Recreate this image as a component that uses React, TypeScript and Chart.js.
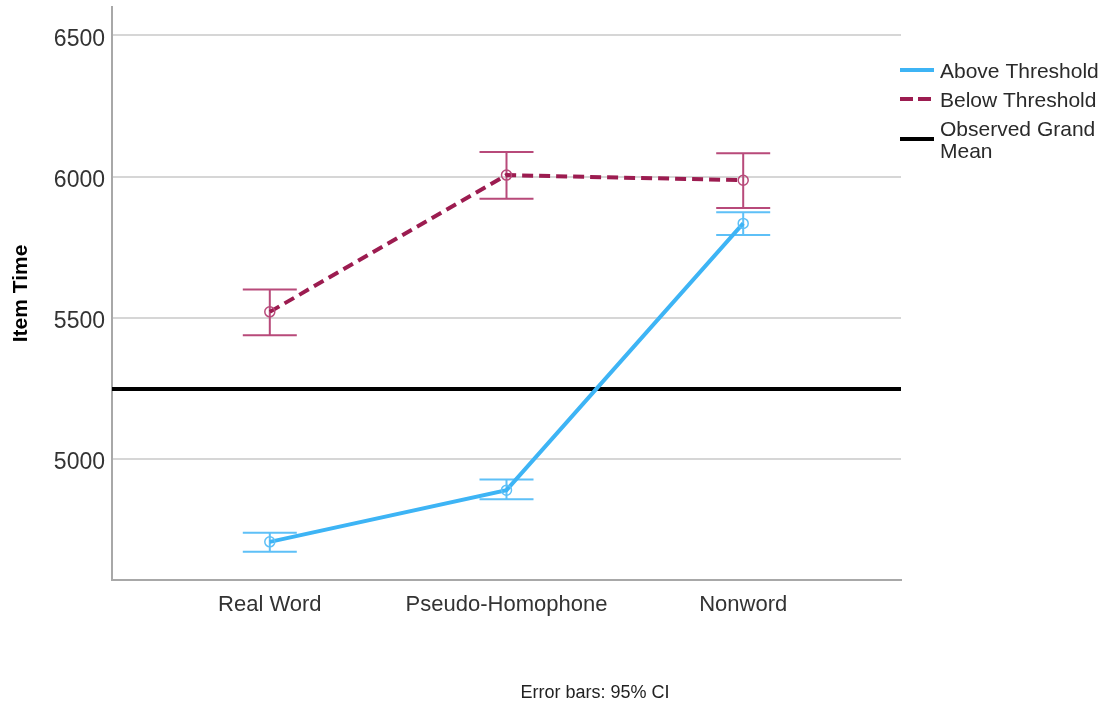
import React, { useEffect, useRef } from "react";
import { Chart, registerables } from "chart.js";
Chart.register(...registerables);

const categories = ["Real Word", "Pseudo-Homophone", "Nonword"];
const aboveMean = [4707, 4890, 5834];
const aboveLower = [4672, 4858, 5793];
const aboveUpper = [4739, 4928, 5874];
const belowMean = [5521, 6005, 5987];
const belowLower = [5438, 5921, 5889];
const belowUpper = [5600, 6087, 6082];
const grandMean = 5248;
const yTicks = [5000, 5500, 6000, 6500];
const seriesLabels = ["Above Threshold", "Below Threshold", "Observed Grand Mean"];
const yTitle = "Item Time";
const footnote = "Error bars: 95% CI";

const FONT = "'Liberation Sans', Arial, sans-serif";
const BLUE = "#3db4f5";
const BLUE_EB = "#5ec0f7";
const MAROON = "#9c1c50";
const MAROON_EB = "#b84a7a";

const X_MIN = -2 / 3;
const X_MAX = categories.length - 1 + 2 / 3;

export default function App() {
  const ref = useRef<HTMLCanvasElement | null>(null);
  useEffect(() => {
    document.body.style.margin = "0";
    const canvas = ref.current;
    if (!canvas) return;

    const errorBars = {
      id: "errorBars",
      beforeDatasetsDraw(chart: any) {
        const { ctx, scales } = chart;
        const draw = (lo: number[], hi: number[], color: string) => {
          ctx.save();
          ctx.strokeStyle = color;
          ctx.lineWidth = 2;
          lo.forEach((l, i) => {
            const x = scales.x.getPixelForValue(i);
            const y1 = scales.y.getPixelForValue(l);
            const y2 = scales.y.getPixelForValue(hi[i]);
            ctx.beginPath();
            ctx.moveTo(x, y1);
            ctx.lineTo(x, y2);
            ctx.moveTo(x - 27, y1);
            ctx.lineTo(x + 27, y1);
            ctx.moveTo(x - 27, y2);
            ctx.lineTo(x + 27, y2);
            ctx.stroke();
          });
          ctx.restore();
        };
        draw(belowLower, belowUpper, MAROON_EB);
        draw(aboveLower, aboveUpper, BLUE_EB);
      },
    };

    const extras = {
      id: "extras",
      afterDraw(chart: any) {
        const { ctx } = chart;
        ctx.save();
        // footnote
        ctx.fillStyle = "#222";
        ctx.font = `18px ${FONT}`;
        ctx.textAlign = "center";
        ctx.textBaseline = "middle";
        ctx.fillText(footnote, 595, 693);
        // legend
        ctx.fillStyle = "#2a2a2a";
        ctx.font = `21px ${FONT}`;
        ctx.textAlign = "left";
        const styles = [
          { color: BLUE, dash: [] as number[] },
          { color: MAROON, dash: [13, 5] },
          { color: "#000", dash: [] as number[] },
        ];
        let y = 72;
        const lineH = 22;
        seriesLabels.forEach((label, i) => {
          const words = label.split(" ");
          const lines: string[] = [];
          let cur = "";
          words.forEach((w) => {
            const t = cur ? cur + " " + w : w;
            if (ctx.measureText(t).width > 170 && cur) {
              lines.push(cur);
              cur = w;
            } else cur = t;
          });
          lines.push(cur);
          const blockTop = y;
          lines.forEach((ln, k) => {
            ctx.fillText(ln, 940, blockTop + k * lineH);
          });
          const lineY = lines.length > 1 ? blockTop + ((lines.length - 1) * lineH) / 2 - 2 : blockTop - 2;
          ctx.save();
          ctx.strokeStyle = styles[i].color;
          ctx.lineWidth = 4;
          ctx.setLineDash(styles[i].dash);
          ctx.beginPath();
          ctx.moveTo(900, lineY);
          ctx.lineTo(934, lineY);
          ctx.stroke();
          ctx.restore();
          y = blockTop + lines.length * lineH + 7;
        });
        ctx.restore();
      },
    };

    const chart = new Chart(canvas, {
      type: "line",
      data: {
        datasets: [
          {
            label: seriesLabels[0],
            data: aboveMean.map((v, i) => ({ x: i, y: v })),
            borderColor: BLUE,
            borderWidth: 4,
            pointRadius: 5,
            pointBorderWidth: 1.5,
            pointBorderColor: BLUE_EB,
            pointBackgroundColor: "rgba(0,0,0,0)",
            tension: 0,
          },
          {
            label: seriesLabels[1],
            data: belowMean.map((v, i) => ({ x: i, y: v })),
            borderColor: MAROON,
            borderWidth: 4,
            borderDash: [11, 6],
            pointRadius: 5,
            pointBorderWidth: 1.5,
            pointBorderColor: MAROON_EB,
            pointBackgroundColor: "rgba(0,0,0,0)",
            tension: 0,
          },
          {
            label: seriesLabels[2],
            data: [
              { x: X_MIN, y: grandMean },
              { x: X_MAX, y: grandMean },
            ],
            borderColor: "#000",
            borderWidth: 4,
            pointRadius: 0,
            tension: 0,
          },
        ],
      },
      options: {
        animation: false,
        responsive: false,
        layout: { padding: { top: 7, right: 209, left: 0, bottom: 0 } },
        plugins: {
          legend: { display: false },
          tooltip: { enabled: false },
          title: { display: false },
        },
        scales: {
          x: {
            type: "linear",
            min: X_MIN,
            max: X_MAX,
            afterBuildTicks: (s: any) => {
              s.ticks = categories.map((_, i) => ({ value: i }));
            },
            afterFit: (s: any) => {
              s.height = 126;
              s.paddingLeft = 0;
              s.paddingRight = 0;
            },
            ticks: {
              callback: (v: any) => categories[Math.round(Number(v))],
              autoSkip: false,
              maxRotation: 0,
              padding: 12,
              color: "#333",
              font: { family: FONT, size: 22 },
            },
            grid: { drawOnChartArea: false, drawTicks: false },
            border: { color: "#a8a8a8", width: 2 },
          },
          y: {
            type: "linear",
            min: 4572,
            max: 6600,
            afterBuildTicks: (s: any) => {
              s.ticks = yTicks.map((v) => ({ value: v }));
            },
            afterFit: (s: any) => {
              s.width = 112;
              s.paddingTop = 0;
              s.paddingBottom = 0;
            },
            ticks: {
              padding: 7,
              labelOffset: 4,
              color: "#333",
              font: { family: FONT, size: 23 },
              callback: (v: any) => String(v),
            },
            grid: { color: "#d6d6d6", lineWidth: 2, drawTicks: false },
            border: { color: "#a8a8a8", width: 2 },
            title: {
              display: true,
              text: yTitle,
              color: "#000",
              font: { family: FONT, size: 21, weight: "bold" },
              padding: { top: 9, bottom: 0 },
            },
          },
        },
      },
      plugins: [errorBars, extras],
    });
    return () => chart.destroy();
  }, []);

  return (
    <div style={{ width: 1110, height: 706, background: "#fff" }}>
      <canvas ref={ref} width={1110} height={706} style={{ display: "block" }} />
    </div>
  );
}
